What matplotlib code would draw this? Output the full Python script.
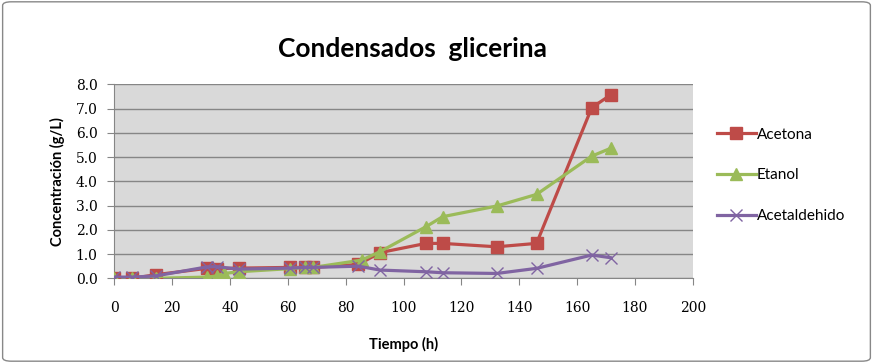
import matplotlib
matplotlib.use('Agg')
import matplotlib.pyplot as plt
from matplotlib.patches import FancyBboxPatch

plt.rcParams['font.family'] = ['Lato', 'DejaVu Sans']

tiempo_acetona = [0, 6.3, 14.4, 32, 35.4, 43, 60.8, 66, 68.7, 84.4, 91.9, 107.8, 113.5, 132.2, 146, 165.1, 171.6]
acetona = [0.0, 0.0, 0.15, 0.41, 0.40, 0.42, 0.45, 0.45, 0.45, 0.57, 1.06, 1.44, 1.44, 1.30, 1.44, 7.04, 7.56]

tiempo_etanol = [0, 6.3, 14.4, 32, 35.4, 38.1, 43, 60.8, 66, 68.7, 85.5, 91.9, 107.8, 113.5, 132.2, 146, 165.1, 171.6]
etanol = [0.0, 0.0, 0.0, 0.05, 0.1, 0.2, 0.27, 0.4, 0.45, 0.45, 0.75, 1.1, 2.13, 2.54, 2.98, 3.46, 5.04, 5.36]

tiempo_acetal = [0, 6.3, 14.4, 32, 35.4, 43, 60.8, 66, 68.7, 84.4, 91.9, 107.8, 113.5, 132.2, 146, 165.1, 171.6]
acetaldehido = [0.05, 0.05, 0.1, 0.47, 0.48, 0.38, 0.42, 0.45, 0.45, 0.5, 0.34, 0.27, 0.23, 0.2, 0.41, 0.96, 0.85]

fig = plt.figure(figsize=(8.73, 3.63), dpi=100)
ax = fig.add_axes([0.1309, 0.2333, 0.6626, 0.5344])
ax.set_facecolor('#D9D9D9')

ax.plot(tiempo_acetona, acetona, color='#BE4B48', lw=2.3, marker='s', ms=9, label='Acetona', zorder=3)
ax.plot(tiempo_etanol, etanol, color='#9BBB59', lw=2.3, marker='^', ms=9, label='Etanol', zorder=3)
ax.plot(tiempo_acetal, acetaldehido, color='#8064A2', lw=2.3, marker='x', ms=9, mew=1.0, label='Acetaldehido', zorder=3)

ax.set_xlim(0, 200)
ax.set_ylim(0, 8)
ax.set_xticks(range(0, 201, 20))
ax.set_yticks(range(0, 9))
ax.set_yticklabels(['%.1f' % v for v in range(0, 9)])
ax.yaxis.grid(True, color='#868686', lw=1)
ax.set_axisbelow(True)
ax.tick_params(axis='both', labelsize=10, color='#868686', length=5, direction='out')
for lbl in ax.get_xticklabels() + ax.get_yticklabels():
    lbl.set_family('DejaVu Serif')
for s in ['top', 'right']:
    ax.spines[s].set_visible(False)
for s in ['left', 'bottom']:
    ax.spines[s].set_color('#868686')
ax.tick_params(axis='x', pad=11)
ax.tick_params(axis='y', pad=7)

ax.set_xlabel('Tiempo (h)', fontsize=10.5, fontweight='bold', labelpad=16)
ax.set_ylabel('Concentración (g/L)', fontsize=10.5, fontweight='bold')
ax.yaxis.set_label_coords(-0.086, 0.5)
fig.text(0.473, 0.865, 'Condensados  glicerina', fontsize=19, fontweight='bold', ha='center', va='center')

fig.legend(loc='center left', bbox_to_anchor=(0.805, 0.517), frameon=False,
           fontsize=11, labelspacing=1.75, handlelength=2.6, handletextpad=0.05)

border = FancyBboxPatch((0.003, 0.005), 0.994, 0.99, boxstyle='round,pad=0,rounding_size=0.01',
                        transform=fig.transFigure, fill=False, ec='#888888', lw=1)
fig.patches.append(border)

fig.savefig('out.png', dpi=100)
